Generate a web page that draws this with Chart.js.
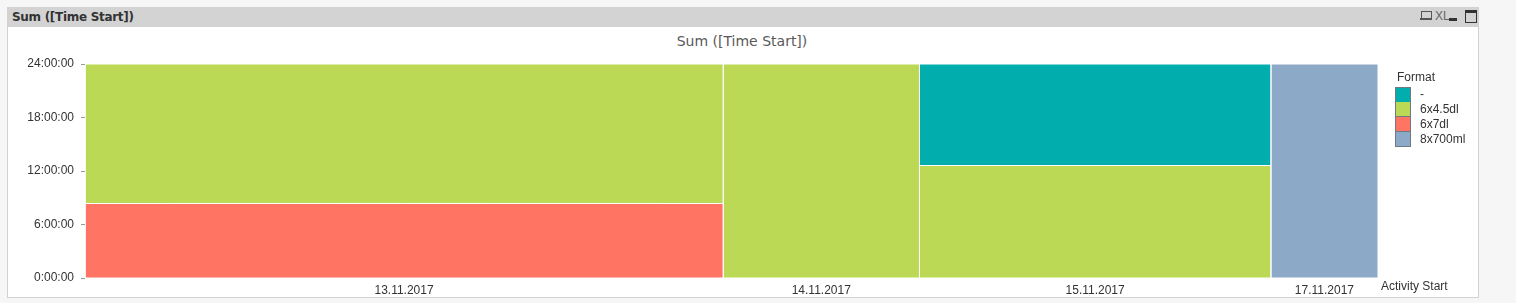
<!DOCTYPE html>
<html>
<head>
<meta charset="utf-8">
<script src="https://cdn.jsdelivr.net/npm/chart.js@4/dist/chart.umd.min.js"></script>
<style>
  html,body{margin:0;padding:0;background:#f6f6f6;width:1516px;height:303px;overflow:hidden;font-family:"Liberation Sans",Arial,sans-serif;}
  #panel{position:absolute;left:7px;top:7px;width:1470px;height:290px;background:#fff;border:1px solid #d2d2d2;border-top:none;}
  #caption{position:absolute;left:7px;top:7px;width:1471px;height:20px;background:#d3d3d3;}
  #capText{position:absolute;left:5px;top:3px;font:bold 12px "DejaVu Sans",sans-serif;color:#333;letter-spacing:-0.3px;}
  .ic{position:absolute;}
  #title{position:absolute;left:0;width:1484px;top:33px;text-align:center;font:14px "DejaVu Sans",sans-serif;color:#595959;}
  #xtitle{position:absolute;left:1381px;top:279px;font-size:12px;color:#333;}
  #legend{position:absolute;left:1395px;top:70px;font-size:12px;color:#333;}
  #legend .t{margin-left:2px;height:15px;line-height:15px;margin-bottom:2px;}
  #legend .row{height:15px;position:relative;}
  #legend .sw{position:absolute;left:0;top:0;width:14px;height:14px;border:1px solid #6f7a84;box-sizing:content-box;}
  #legend .lb{position:absolute;left:25px;top:0;line-height:15px;white-space:nowrap;}
  #wrap{position:absolute;left:0;top:0;width:1516px;height:303px;}
</style>
</head>
<body>
<div id="panel"></div>
<div id="caption"><div id="capText">Sum ([Time Start])</div>
  <div class="ic" style="left:1414px;top:4px;width:9px;height:7px;border:1px solid #555;"></div>
  <div class="ic" style="left:1413px;top:11px;width:12px;height:2px;background:#555;"></div>
  <div class="ic" style="left:1428px;top:2px;font:12px 'Liberation Sans Narrow','Liberation Sans',sans-serif;color:#666;">XL</div>
  <div class="ic" style="left:1442px;top:11px;width:8px;height:3px;background:#333;"></div>
  <div class="ic" style="left:1458px;top:3px;width:10px;height:9px;border:1px solid #333;border-top:3px solid #333;"></div>
</div>
<div id="title">Sum ([Time Start])</div>
<div id="wrap"><canvas id="c" width="1516" height="303"></canvas></div>
<div id="xtitle">Activity Start</div>
<div id="legend"></div>
<script>
// ---- Data ----
const categories = ['13.11.2017', '14.11.2017', '15.11.2017', '17.11.2017'];
const formats = ['-', '6x4.5dl', '6x7dl', '8x700ml'];
const colors = ['#02adad', '#bcd955', '#ff7463', '#8ca9c8'];
// Sum of Time Start per format and day (in days)
const valDash    = [0,    0,    1.29, 0   ];
const val6x45dl  = [3.22, 1.52, 1.43, 0   ];
const val6x7dl   = [1.72, 0,    0,    0   ];
const val8x700ml = [0,    0,    0,    0.83];
const yTickLabels = ['0:00:00', '6:00:00', '12:00:00', '18:00:00', '24:00:00'];

const seriesValues = [valDash, val6x45dl, val6x7dl, val8x700ml];
// stacking bottom -> top is reverse of legend order
const stackOrder = [3, 2, 1, 0];

const totals = categories.map((_, i) => seriesValues.reduce((s, arr) => s + arr[i], 0));
const grand = totals.reduce((a, b) => a + b, 0);
const starts = [];
let acc = 0;
totals.forEach(t => { starts.push(acc); acc += t; });
const centers = totals.map((t, i) => starts[i] + t / 2);

const datasets = [];
categories.forEach((cat, i) => {
  let cum = 0;
  stackOrder.forEach(s => {
    const v = seriesValues[s][i];
    if (!v) return;
    const y0 = cum / totals[i] * 24;
    cum += v;
    const y1 = cum / totals[i] * 24;
    const x0 = starts[i], x1 = starts[i] + totals[i];
    datasets.push({
      label: formats[s],
      data: [{x: x0, y: y0}, {x: x1, y: y0}, {x: x1, y: y1}, {x: x0, y: y1}, {x: x0, y: y0}],
      showLine: true,
      fill: 'shape',
      backgroundColor: colors[s],
      borderColor: '#ffffff',
      borderWidth: 1,
      pointRadius: 0,
      pointHoverRadius: 0,
      tension: 0
    });
  });
});

// HTML legend built from arrays
const lg = document.getElementById('legend');
let html = '<div class="t">Format</div>';
formats.forEach((f, i) => {
  html += '<div class="row"><div class="sw" style="background:' + colors[i] + ';' + (i > 0 ? 'border-top:none;' : '') + '"></div><div class="lb">' + f + '</div></div>';
});
lg.innerHTML = html;

new Chart(document.getElementById('c'), {
  type: 'scatter',
  data: { datasets },
  options: {
    responsive: false,
    animation: false,
    events: [],
    layout: { padding: { left: 0, right: 138, top: 64, bottom: 0 } },
    plugins: { legend: { display: false }, tooltip: { enabled: false }, title: { display: false } },
    scales: {
      x: {
        type: 'linear', min: 0, max: grand,
        grid: { display: false, drawTicks: false },
        border: { display: false },
        afterBuildTicks: sc => { sc.ticks = centers.map(v => ({ value: v })); },
        afterFit: sc => { sc.height = 25; },
        ticks: {
          autoSkip: false, maxRotation: 0, padding: 5,
          color: '#333', font: { family: 'Liberation Sans', size: 12 },
          callback: (v, idx) => categories[idx]
        }
      },
      y: {
        type: 'linear', min: 0, max: 24,
        afterBuildTicks: sc => { sc.ticks = yTickLabels.map((_, k) => ({ value: k * 6 })); },
        afterFit: sc => { sc.width = 85; },
        grid: { drawOnChartArea: false, drawTicks: true, tickLength: 4, color: '#999' },
        border: { display: false },
        ticks: {
          padding: 7, color: '#333', font: { family: 'Liberation Sans', size: 12 },
          callback: (v, idx) => yTickLabels[idx]
        }
      }
    }
  }
});
</script>
</body>
</html>
